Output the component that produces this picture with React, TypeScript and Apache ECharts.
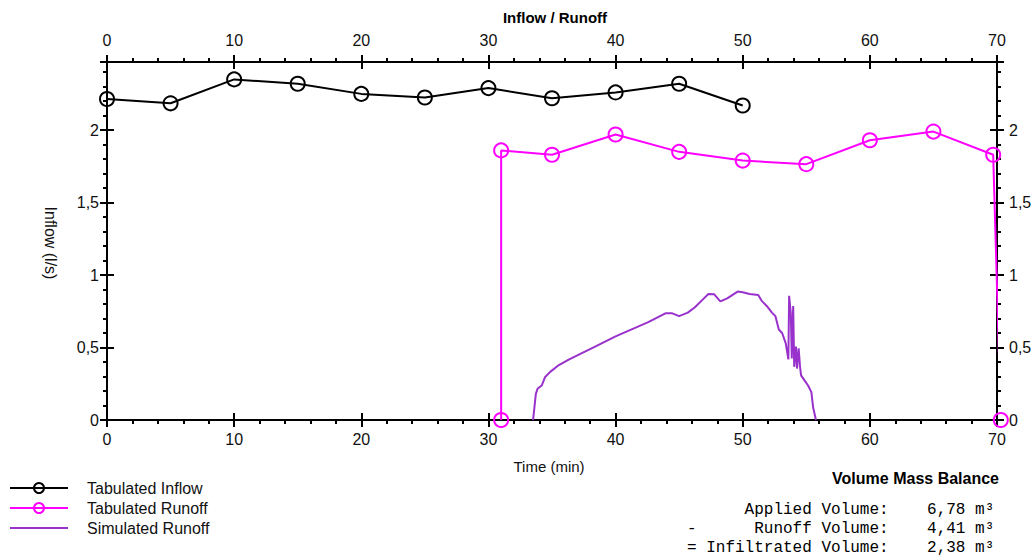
import React, { useEffect, useRef } from "react";
import * as echarts from "echarts";

// ---- data ----
const inflowTime = [0, 5, 10, 15, 20, 25, 30, 35, 40, 45, 50];
const inflowValues = [2.215, 2.185, 2.35, 2.32, 2.25, 2.225, 2.29, 2.22, 2.26, 2.32, 2.17];

const runoffTime = [31, 31, 35, 40, 45, 50, 55, 60, 65, 69.7, 70.3];
const runoffValues = [0, 1.86, 1.83, 1.97, 1.85, 1.79, 1.765, 1.93, 1.99, 1.83, 0];

const simTime = [
  33.51, 33.73, 33.86, 34.19, 34.46, 34.86, 35.54, 36.35, 37.43, 38.51, 40, 41.22, 42.57, 43.92,
  44.46, 45, 45.68, 46.22, 46.89, 47.3, 47.76, 48.24, 48.78, 49.6, 50, 50.54, 51.22, 51.49, 51.89,
  52.3, 52.57, 52.84, 53.1, 53.38, 53.59, 53.65, 53.78, 53.86, 53.97, 54.05, 54.19, 54.27, 54.4,
  54.51, 54.59, 54.86, 55.14, 55.4, 55.54, 55.76,
];
const simValues = [
  0, 0.18, 0.215, 0.238, 0.297, 0.332, 0.379, 0.418, 0.465, 0.512, 0.577, 0.624, 0.675, 0.736,
  0.736, 0.717, 0.741, 0.776, 0.834, 0.869, 0.867, 0.818, 0.839, 0.886, 0.881, 0.869, 0.862, 0.822,
  0.787, 0.741, 0.717, 0.624, 0.6, 0.53, 0.418, 0.857, 0.74, 0.425, 0.787, 0.367, 0.507, 0.355,
  0.495, 0.367, 0.308, 0.273, 0.238, 0.192, 0.086, 0,
];

const xTicks = { min: 0, max: 70, interval: 10 };
const yTicks = { min: 0, max: 2.47, interval: 0.5 };

const chartTitle = "Inflow / Runoff";
const xName = "Time (min)";
const yName = "Inflow (l/s)";
const legendNames = ["Tabulated Inflow", "Tabulated Runoff", "Simulated Runoff"];
const balanceTitle = "Volume Mass Balance";
const balanceLines = [
  "      Applied Volume:    6,78 m³",
  "-      Runoff Volume:    4,41 m³",
  "= Infiltrated Volume:    2,38 m³",
];

const INK = "#000000";
const MAGENTA = "#FF00FF";
const PURPLE = "#9932CC";
const FONT = "'Liberation Sans', Arial, sans-serif";

const fmt = (v: number) => String(v).replace(".", ",");

function mainAxis(kind: "x" | "y", position: string, margin: number) {
  const t = kind === "x" ? xTicks : yTicks;
  return {
    type: "value",
    position,
    min: t.min,
    max: t.max,
    interval: t.interval,
    splitLine: { show: false },
    axisLine: { show: true, onZero: false, lineStyle: { color: INK, width: 2 } },
    axisTick: { show: true, inside: false, length: 7, lineStyle: { color: INK, width: 2 } },
    minorTick: { show: true, splitNumber: 5, length: 4, lineStyle: { color: INK, width: 2 } },
    axisLabel: {
      show: true,
      margin,
      color: "#111111",
      fontFamily: FONT,
      fontSize: 16,
      showMaxLabel: kind === "x",
      formatter: fmt,
    },
  };
}

function innerAxis(kind: "x" | "y", position: string) {
  const t = kind === "x" ? xTicks : yTicks;
  return {
    type: "value",
    position,
    min: t.min,
    max: t.max,
    interval: t.interval,
    splitLine: { show: false },
    axisLine: { show: false, onZero: false },
    axisTick: { show: true, inside: true, length: 7, lineStyle: { color: INK, width: 2 } },
    minorTick: { show: false },
    axisLabel: { show: false },
  };
}

export default function App() {
  const ref = useRef<HTMLDivElement>(null);
  useEffect(() => {
    if (!ref.current) return;
    const chart = echarts.init(ref.current, null, { renderer: "svg" });
    const zip = (xs: number[], ys: number[]) => xs.map((x, i) => [x, ys[i]]);
    const legendY = [488, 508, 528];
    const legendColors = [INK, MAGENTA, PURPLE];
    const graphic: any[] = [
      {
        type: "text",
        x: 555,
        y: 17,
        style: { text: chartTitle, font: `bold 15px ${FONT}`, fill: INK, align: "center", verticalAlign: "middle" },
      },
      {
        type: "text",
        x: 549,
        y: 466,
        style: { text: xName, font: `15px ${FONT}`, fill: "#111111", align: "center", verticalAlign: "middle" },
      },
      {
        type: "text",
        x: 50,
        y: 243,
        rotation: -Math.PI / 2,
        style: { text: yName, font: `16px ${FONT}`, fill: "#111111", align: "center", verticalAlign: "middle" },
      },
      {
        type: "text",
        x: 999,
        y: 478,
        style: { text: balanceTitle, font: `bold 16px ${FONT}`, fill: INK, align: "right", verticalAlign: "middle" },
      },
    ];
    balanceLines.forEach((line, i) => {
      graphic.push({
        type: "text",
        x: 687,
        y: 510 + i * 19,
        style: {
          text: line,
          font: `16px 'Liberation Mono', 'Courier New', monospace`,
          fill: INK,
          align: "left",
          verticalAlign: "middle",
        },
      });
    });
    legendNames.forEach((name, i) => {
      graphic.push({
        type: "line",
        shape: { x1: 10, y1: legendY[i], x2: 68, y2: legendY[i] },
        style: { stroke: legendColors[i], lineWidth: 2 },
      });
      if (i < 2) {
        graphic.push({
          type: "circle",
          shape: { cx: 39, cy: legendY[i], r: 5 },
          style: { stroke: legendColors[i], lineWidth: 2, fill: "none" },
        });
      }
      graphic.push({
        type: "text",
        x: 87,
        y: legendY[i],
        style: { text: name, font: `16px ${FONT}`, fill: "#111111", align: "left", verticalAlign: "middle" },
      });
    });

    chart.setOption({
      animation: false,
      backgroundColor: "#ffffff",
      grid: { left: 107, right: 39, top: 62, bottom: 139, containLabel: false },
      xAxis: [
        mainAxis("x", "bottom", 11),
        mainAxis("x", "top", 14),
        innerAxis("x", "bottom"),
        innerAxis("x", "top"),
      ],
      yAxis: [
        mainAxis("y", "left", 8),
        mainAxis("y", "right", 12),
        innerAxis("y", "left"),
        innerAxis("y", "right"),
      ],
      graphic,
      series: [
        {
          name: legendNames[0],
          type: "line",
          data: zip(inflowTime, inflowValues),
          symbol: "circle",
          symbolSize: 14,
          clip: false,
          lineStyle: { color: INK, width: 2 },
          itemStyle: { color: "rgba(0,0,0,0)", borderColor: INK, borderWidth: 2 },
          z: 3,
        },
        {
          name: legendNames[1],
          type: "line",
          data: zip(runoffTime, runoffValues),
          symbol: "circle",
          symbolSize: 14,
          clip: false,
          lineStyle: { color: MAGENTA, width: 2 },
          itemStyle: { color: "rgba(0,0,0,0)", borderColor: MAGENTA, borderWidth: 2 },
          z: 3,
        },
        {
          name: legendNames[2],
          type: "line",
          data: zip(simTime, simValues),
          symbol: "none",
          clip: false,
          lineStyle: { color: PURPLE, width: 2 },
          z: 2,
        },
      ],
    });
    return () => chart.dispose();
  }, []);
  return (
    <div
      ref={ref}
      style={{ position: "fixed", left: 0, top: 0, width: 1036, height: 559, background: "#fff" }}
    />
  );
}
